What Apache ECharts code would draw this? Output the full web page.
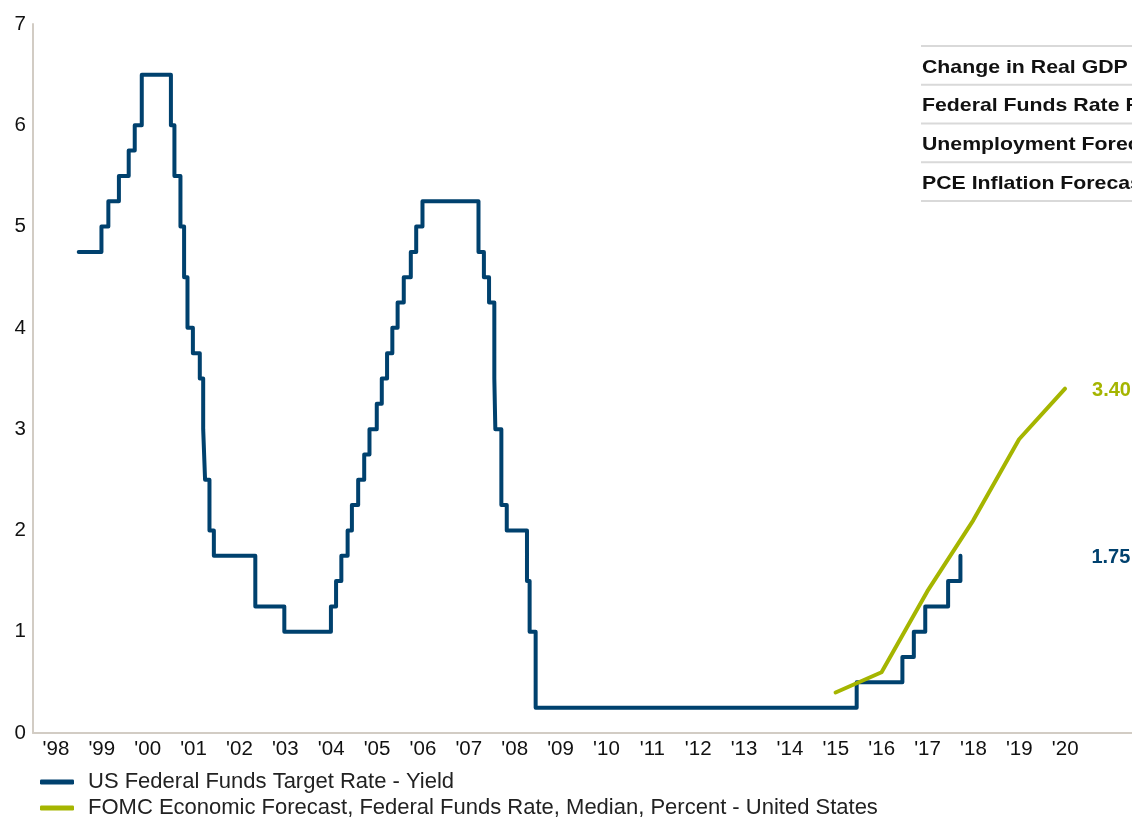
<!DOCTYPE html>
<html>
<head>
<meta charset="utf-8">
<title>Federal Funds Rate and FOMC Forecast</title>
<script src="https://cdn.jsdelivr.net/npm/echarts@6/dist/echarts.min.js"></script>
<style>
  html, body { margin: 0; padding: 0; background: #ffffff; }
  #chart { width: 1132px; height: 822px; }
</style>
</head>
<body>
<div id="chart"></div>
<script>
// Fed funds target rate: date of each change and the new target (percent)
const fedDates = [
  '1998-12-31', '1999-06-30', '1999-08-24', '1999-11-16', '2000-02-02', '2000-03-21',
  '2000-05-16', '2001-01-03', '2001-01-31', '2001-03-20', '2001-04-18', '2001-05-15',
  '2001-06-27', '2001-08-21', '2001-09-17', '2001-10-02', '2001-11-06', '2001-12-11',
  '2002-11-06', '2003-06-25', '2004-06-30', '2004-08-10', '2004-09-21', '2004-11-10',
  '2004-12-14', '2005-02-02', '2005-03-22', '2005-05-03', '2005-06-30', '2005-08-09',
  '2005-09-20', '2005-11-01', '2005-12-13', '2006-01-31', '2006-03-28', '2006-05-10',
  '2006-06-29', '2007-09-18', '2007-10-31', '2007-12-11', '2008-01-22', '2008-01-30',
  '2008-03-18', '2008-04-30', '2008-10-08', '2008-10-29', '2008-12-16', '2015-12-16',
  '2016-12-14', '2017-03-15', '2017-06-14', '2017-12-13', '2018-03-21'
];
const fedRates = [
  4.75, 5.00, 5.25, 5.50, 5.75, 6.00,
  6.50, 6.00, 5.50, 5.00, 4.50, 4.00,
  3.75, 3.50, 3.00, 2.50, 2.00, 1.75,
  1.25, 1.00, 1.25, 1.50, 1.75, 2.00,
  2.25, 2.50, 2.75, 3.00, 3.25, 3.50,
  3.75, 4.00, 4.25, 4.50, 4.75, 5.00,
  5.25, 4.75, 4.50, 4.25, 3.50, 3.00,
  2.25, 2.00, 1.50, 1.00, 0.25, 0.50,
  0.75, 1.00, 1.25, 1.50, 1.75
];

// FOMC median projection for each year, placed mid-year
const fomcDates = ['2015-07-01', '2016-07-01', '2017-07-01', '2018-07-01', '2019-07-01', '2020-07-01'];
const fomcMedian = [0.4, 0.6, 1.4, 2.1, 2.9, 3.4];

// Year labels, centred in each year band
const yearLabels = ["'98", "'99", "'00", "'01", "'02", "'03", "'04", "'05", "'06", "'07", "'08",
  "'09", "'10", "'11", "'12", "'13", "'14", "'15", "'16", "'17", "'18", "'19", "'20", ""];
const yAxisTicks = [0, 1, 2, 3, 4, 5, 6, 7];

const seriesNames = [
  'US Federal Funds Target Rate - Yield',
  'FOMC Economic Forecast, Federal Funds Rate, Median, Percent - United States'
];
const tableRows = [
  'Change in Real GDP Forecast',
  'Federal Funds Rate Forecast',
  'Unemployment Forecast',
  'PCE Inflation Forecast'
];

const NAVY = '#00416e';
const GREEN = '#a5b500';
const AXIS = '#d2ccc4';
const FONT = '"Liberation Sans", Arial, sans-serif';

const fedData = fedDates.map((d, i) => [d, fedRates[i]]);
const fomcData = fomcDates.map((d, i) => [d, fomcMedian[i]]);

// Summary table in the upper right corner
const tableTop = 46, rowH = 38.75, tableLeft = 921;
const tableGraphics = [];
for (let i = 0; i <= tableRows.length; i++) {
  tableGraphics.push({
    type: 'line',
    shape: { x1: tableLeft, y1: tableTop + i * rowH, x2: 1140, y2: tableTop + i * rowH },
    style: { stroke: '#d9d9d9', lineWidth: 2 },
    silent: true
  });
}
tableRows.forEach((t, i) => {
  tableGraphics.push({
    type: 'text',
    x: tableLeft + 1,
    y: tableTop + i * rowH + rowH / 2 + 2,
    scaleX: 1.12,
    style: {
      text: t,
      fill: '#111111',
      font: 'bold 19px ' + FONT,
      textAlign: 'left',
      textVerticalAlign: 'middle'
    },
    silent: true
  });
});

const chart = echarts.init(document.getElementById('chart'), null, { renderer: 'canvas' });
chart.setOption({
  animation: false,
  backgroundColor: '#ffffff',
  textStyle: { fontFamily: FONT },
  grid: { left: 33, right: -2, top: 24, bottom: 89, containLabel: false, outerBoundsMode: 'none' },
  legend: {
    orient: 'vertical',
    left: 40,
    top: 771,
    height: 51,
    padding: 0,
    itemGap: 4,
    itemWidth: 34,
    itemHeight: 5,
    icon: 'roundRect',
    textStyle: { fontSize: 22, lineHeight: 22, color: '#222222', padding: [0, 0, 0, 9], fontFamily: FONT },
    data: seriesNames
  },
  xAxis: [
    {
      type: 'time',
      min: '1998-01-01',
      max: '2022-01-01',
      position: 'bottom',
      offset: 0,
      axisLine: { show: true, lineStyle: { color: AXIS, width: 2 } },
      axisTick: { show: false },
      axisLabel: { show: false },
      splitLine: { show: false }
    },
    {
      type: 'category',
      data: yearLabels,
      boundaryGap: true,
      position: 'bottom',
      offset: 0,
      axisLine: { show: false },
      axisTick: { show: false },
      splitLine: { show: false },
      axisLabel: { interval: 0, fontSize: 20.5, color: '#111111', margin: 6, fontFamily: FONT }
    }
  ],
  yAxis: {
    type: 'value',
    min: yAxisTicks[0],
    max: yAxisTicks[yAxisTicks.length - 1],
    interval: 1,
    axisLine: { show: true, lineStyle: { color: AXIS, width: 2 } },
    axisTick: { show: false },
    splitLine: { show: false },
    axisLabel: { fontSize: 20.5, color: '#111111', margin: 7, fontFamily: FONT }
  },
  series: [
    {
      name: seriesNames[0],
      type: 'line',
      xAxisIndex: 0,
      step: 'end',
      data: fedData,
      showSymbol: false,
      symbol: 'none',
      color: NAVY,
      lineStyle: { color: NAVY, width: 4, join: 'round', cap: 'round' },
      endLabel: {
        show: true,
        distance: 131,
        offset: [0, 2],
        color: NAVY,
        fontWeight: 'bold',
        fontSize: 20,
        fontFamily: FONT,
        formatter: p => p.value[1].toFixed(2)
      },
      z: 3
    },
    {
      name: seriesNames[1],
      type: 'line',
      xAxisIndex: 0,
      data: fomcData,
      showSymbol: false,
      symbol: 'none',
      color: GREEN,
      lineStyle: { color: GREEN, width: 4, join: 'round', cap: 'round' },
      endLabel: {
        show: true,
        distance: 27,
        offset: [0, 2],
        color: GREEN,
        fontWeight: 'bold',
        fontSize: 20,
        fontFamily: FONT,
        formatter: p => p.value[1].toFixed(2)
      },
      z: 4
    }
  ],
  graphic: tableGraphics
});
</script>
</body>
</html>
